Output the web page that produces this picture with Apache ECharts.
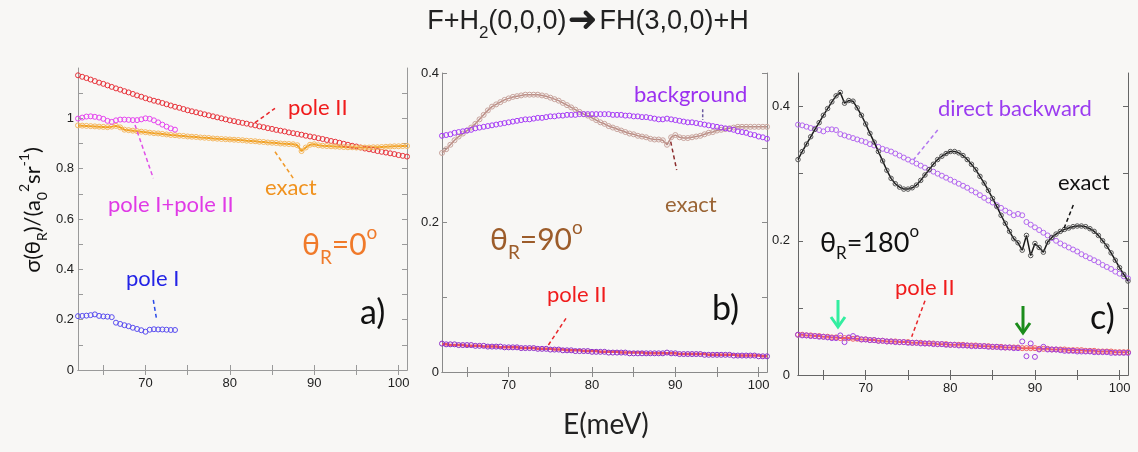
<!DOCTYPE html>
<html><head><meta charset="utf-8">
<script src="https://cdn.jsdelivr.net/npm/echarts@6/dist/echarts.min.js"></script>
<style>html,body{margin:0;padding:0;background:#f8f7f5;}#c{width:1138px;height:452px;}</style>
</head><body><div id="c"></div>
<script>
// ---------- DATA ----------
const E = [62,62.5,63,63.5,64,64.5,65,65.5,66,66.5,67,67.5,68,68.5,69,69.5,70,70.5,71,71.5,72,72.5,73,73.5,74,74.5,75,75.5,76,76.5,77,77.5,78,78.5,79,79.5,80,80.5,81,81.5,82,82.5,83,83.5,84,84.5,85,85.5,86,86.5,87,87.5,88,88.5,89,89.5,90,90.5,91,91.5,92,92.5,93,93.5,94,94.5,95,95.5,96,96.5,97,97.5,98,98.5,99,99.5,100,100.5,101];

// panel a) theta_R = 0
const aPoleII = [1.171,1.165,1.160,1.154,1.148,1.142,1.137,1.131,1.125,1.119,1.114,1.108,1.103,1.097,1.091,1.086,1.080,1.075,1.070,1.066,1.061,1.056,1.051,1.046,1.042,1.037,1.032,1.028,1.024,1.020,1.016,1.012,1.008,1.004,1.000,0.996,0.992,0.989,0.985,0.982,0.979,0.975,0.972,0.968,0.965,0.961,0.958,0.954,0.951,0.948,0.944,0.941,0.938,0.935,0.931,0.928,0.925,0.921,0.918,0.914,0.910,0.907,0.903,0.899,0.895,0.891,0.888,0.884,0.880,0.877,0.874,0.870,0.867,0.864,0.861,0.858,0.854,0.851,0.848];
const aPoleIplusII = [0.999,1.003,1.007,1.008,1.006,1.003,0.998,0.990,0.986,0.992,0.995,0.995,0.994,0.993,0.993,0.996,1.000,0.998,0.992,0.984,0.975,0.967,0.960,0.955];
const aExact = [0.972,0.971,0.970,0.969,0.968,0.967,0.966,0.965,0.967,0.970,0.964,0.955,0.953,0.951,0.949,0.947,0.945,0.943,0.941,0.940,0.938,0.936,0.934,0.933,0.931,0.930,0.928,0.927,0.926,0.924,0.923,0.922,0.920,0.919,0.918,0.917,0.916,0.915,0.914,0.913,0.911,0.910,0.909,0.907,0.906,0.904,0.903,0.902,0.900,0.899,0.898,0.897,0.893,0.870,0.884,0.895,0.897,0.893,0.891,0.890,0.889,0.888,0.887,0.886,0.885,0.885,0.884,0.884,0.884,0.884,0.885,0.885,0.886,0.887,0.888,0.889,0.889,0.890,0.890];
const aPoleI = [0.214,0.215,0.216,0.218,0.221,0.215,0.213,0.212,0.210,0.188,0.183,0.178,0.174,0.168,0.163,0.158,0.152,0.160,0.162,0.161,0.161,0.160,0.159,0.159];

// panel b) theta_R = 90
const bBackground = [0.316,0.317,0.318,0.320,0.321,0.322,0.323,0.324,0.326,0.327,0.328,0.329,0.330,0.331,0.332,0.333,0.334,0.335,0.336,0.337,0.338,0.338,0.339,0.340,0.340,0.341,0.342,0.342,0.343,0.343,0.344,0.344,0.344,0.345,0.345,0.345,0.345,0.345,0.345,0.345,0.345,0.344,0.344,0.344,0.343,0.343,0.342,0.342,0.341,0.341,0.340,0.339,0.338,0.338,0.339,0.338,0.337,0.336,0.335,0.334,0.334,0.333,0.332,0.331,0.330,0.329,0.328,0.327,0.326,0.325,0.324,0.322,0.321,0.320,0.318,0.317,0.315,0.314,0.312];
const bExact = [0.293,0.298,0.304,0.310,0.315,0.319,0.323,0.327,0.332,0.338,0.344,0.350,0.355,0.358,0.361,0.364,0.366,0.368,0.369,0.370,0.371,0.371,0.371,0.371,0.370,0.369,0.367,0.365,0.363,0.360,0.357,0.354,0.351,0.348,0.345,0.343,0.340,0.337,0.334,0.332,0.329,0.327,0.325,0.323,0.321,0.319,0.318,0.316,0.315,0.314,0.312,0.311,0.311,0.310,0.304,0.314,0.317,0.314,0.313,0.313,0.314,0.315,0.316,0.318,0.320,0.321,0.323,0.324,0.325,0.326,0.327,0.328,0.328,0.328,0.328,0.328,0.328,0.328,0.328];
const bPoleII = [0.037,0.037,0.036,0.036,0.036,0.036,0.035,0.035,0.035,0.035,0.034,0.034,0.034,0.034,0.033,0.033,0.033,0.033,0.033,0.032,0.032,0.032,0.032,0.031,0.031,0.031,0.031,0.030,0.030,0.030,0.029,0.029,0.029,0.029,0.028,0.028,0.028,0.028,0.027,0.027,0.027,0.027,0.027,0.026,0.026,0.026,0.026,0.026,0.026,0.025,0.025,0.025,0.025,0.025,0.025,0.025,0.025,0.024,0.024,0.024,0.024,0.024,0.024,0.024,0.023,0.023,0.023,0.023,0.023,0.023,0.023,0.022,0.022,0.022,0.022,0.022,0.022,0.021,0.021];
const bPoleIIb = [0.038,0.037,0.037,0.037,0.036,0.036,0.036,0.036,0.035,0.035,0.035,0.034,0.034,0.034,0.034,0.033,0.033,0.033,0.033,0.032,0.032,0.032,0.032,0.031,0.031,0.031,0.030,0.030,0.030,0.029,0.029,0.029,0.028,0.028,0.028,0.028,0.027,0.027,0.027,0.027,0.026,0.026,0.026,0.026,0.026,0.025,0.025,0.025,0.025,0.025,0.025,0.025,0.025,0.025,0.026,0.025,0.025,0.024,0.024,0.024,0.024,0.024,0.024,0.023,0.023,0.023,0.023,0.023,0.023,0.023,0.022,0.022,0.022,0.022,0.022,0.022,0.021,0.021,0.021];

// panel c) theta_R = 180
const cExact = [0.321,0.333,0.344,0.355,0.366,0.376,0.387,0.397,0.407,0.416,0.421,0.405,0.409,0.408,0.398,0.387,0.374,0.360,0.347,0.333,0.319,0.305,0.293,0.285,0.280,0.277,0.277,0.279,0.283,0.290,0.298,0.306,0.314,0.321,0.326,0.330,0.333,0.333,0.331,0.327,0.321,0.314,0.306,0.296,0.286,0.275,0.263,0.251,0.238,0.226,0.214,0.203,0.197,0.186,0.208,0.178,0.196,0.190,0.183,0.198,0.205,0.210,0.214,0.217,0.219,0.221,0.222,0.222,0.221,0.218,0.214,0.208,0.200,0.192,0.182,0.171,0.160,0.150,0.140];
const cDirectBackward = [0.373,0.372,0.370,0.368,0.367,0.365,0.363,0.366,0.366,0.365,0.359,0.357,0.355,0.353,0.351,0.349,0.347,0.344,0.342,0.340,0.337,0.335,0.333,0.330,0.327,0.324,0.321,0.318,0.315,0.312,0.309,0.306,0.303,0.300,0.297,0.294,0.291,0.288,0.285,0.282,0.279,0.275,0.272,0.268,0.264,0.260,0.257,0.253,0.249,0.245,0.242,0.238,0.240,0.238,0.228,0.224,0.220,0.216,0.212,0.208,0.204,0.200,0.196,0.193,0.190,0.187,0.184,0.180,0.177,0.174,0.171,0.168,0.164,0.161,0.158,0.154,0.151,0.147,0.144];
const cPoleII = [0.060,0.060,0.059,0.059,0.058,0.058,0.057,0.057,0.056,0.056,0.055,0.055,0.055,0.054,0.054,0.053,0.053,0.052,0.052,0.051,0.051,0.050,0.050,0.050,0.049,0.049,0.049,0.048,0.048,0.048,0.047,0.047,0.047,0.046,0.046,0.046,0.045,0.045,0.045,0.045,0.044,0.044,0.044,0.043,0.043,0.043,0.042,0.042,0.042,0.041,0.041,0.041,0.041,0.040,0.040,0.040,0.040,0.039,0.039,0.039,0.038,0.038,0.038,0.038,0.037,0.037,0.037,0.037,0.036,0.036,0.036,0.035,0.035,0.035,0.035,0.034,0.034,0.034,0.034];
const cPoleIIb = [0.060,0.059,0.059,0.058,0.058,0.057,0.057,0.056,0.055,0.055,0.059,0.049,0.056,0.058,0.055,0.053,0.053,0.052,0.052,0.051,0.051,0.050,0.050,0.049,0.049,0.049,0.048,0.048,0.048,0.047,0.047,0.047,0.046,0.046,0.046,0.045,0.045,0.045,0.044,0.044,0.044,0.043,0.043,0.043,0.043,0.042,0.042,0.042,0.041,0.041,0.041,0.040,0.040,0.050,0.028,0.047,0.027,0.038,0.042,0.038,0.038,0.038,0.037,0.036,0.036,0.036,0.035,0.035,0.035,0.035,0.034,0.034,0.034,0.034,0.033,0.033,0.033,0.033,0.033];

// axis ticks / labels
const xTicks = [65,70,75,80,85,90,95,100];
const xLabels = [70,80,90,100];
const yTicksA = [0,0.1,0.2,0.3,0.4,0.5,0.6,0.7,0.8,0.9,1,1.1];
const yLabelsA = [0,0.2,0.4,0.6,0.8,1];
const yTicksBC = [0,0.1,0.2,0.3,0.4];
const yLabelsBC = [0,0.2,0.4];

// ---------- CHART ----------
const chart = echarts.init(document.getElementById('c'), null, {renderer:'canvas'});
const LBL = '"Liberation Sans", Arial, sans-serif';
const TXT = 'Lato, "Open Sans", sans-serif';

const panels = [
  {grid:{left:78, top:68, width:329, height:302}, ymax:1.2, yT:yTicksA, yL:yLabelsA, frame:'#9a9a9a', lm:4},
  {grid:{left:442, top:73, width:325, height:299}, ymax:0.4, yT:yTicksBC, yL:yLabelsBC, frame:'#8a8a8a', lm:3},
  {grid:{left:798, top:73, width:330, height:302}, ymax:0.45, yT:yTicksBC, yL:yLabelsBC, frame:'#666', lm:8},
];

const grid=[], xAxis=[], yAxis=[];
panels.forEach((p,i)=>{
  grid.push(Object.assign({containLabel:false}, p.grid));
  const line = {show:true, lineStyle:{color:p.frame, width:1}};
  xAxis.push({type:'value', gridIndex:i, position:'bottom', min:62, max:101, axisLine:line,
    axisTick:{show:true, inside:true, length:5, customValues:xTicks, lineStyle:{color:p.frame}},
    axisLabel:{customValues:xLabels, margin:7, color:'#222', fontSize:13, fontFamily:LBL},
    splitLine:{show:false}});
  xAxis.push({type:'value', gridIndex:i, position:'top', min:62, max:101, axisLine:line,
    axisTick:{show:true, inside:true, length:5, customValues:xTicks, lineStyle:{color:p.frame}},
    axisLabel:{show:false}, splitLine:{show:false}});
  yAxis.push({type:'value', gridIndex:i, position:'left', min:0, max:p.ymax, axisLine:line,
    axisTick:{show:true, inside:true, length:5, customValues:p.yT, lineStyle:{color:p.frame}},
    axisLabel:{customValues:p.yL, margin:p.lm, color:'#222', fontSize:13, fontFamily:LBL,
      formatter:v=>String(+(+v).toFixed(1))},
    splitLine:{show:false}});
  yAxis.push({type:'value', gridIndex:i, position:'right', min:0, max:p.ymax, axisLine:line,
    axisTick:{show:true, inside:true, length:5, customValues:p.yT, lineStyle:{color:p.frame}},
    axisLabel:{show:false}, splitLine:{show:false}});
});

function S(name, g, vals, o){
  const col = o.color;
  return {
    name, type:'line', xAxisIndex:g*2, yAxisIndex:g*2,
    data: vals.map((v,k)=>[E[k], v]),
    symbol: o.symbol===undefined ? 'circle' : o.symbol,
    symbolSize: o.size || 5, showSymbol: o.symbol!=='none',
    itemStyle:{color:'rgba(0,0,0,0)', borderColor:o.mcolor||col, borderWidth:1},
    lineStyle:{color:o.lcolor||col, width:o.lw||1, opacity:o.lw?1:0},
    emphasis:{disabled:true}, silent:true, animation:false, z:o.z||2
  };
}

const series = [
  S('pole II', 0, aPoleII, {color:'#e8343c'}),
  S('exact', 0, aExact, {color:'#f0a020', mcolor:'#f5b860', lw:2}),
  S('pole I+pole II', 0, aPoleIplusII, {color:'#e645f0'}),
  S('pole I', 0, aPoleI, {color:'#5a4ef0'}),

  S('exact', 1, bExact, {color:'#c8a39c', lcolor:'#b98c84', lw:1.5}),
  S('background', 1, bBackground, {color:'#a63cf5'}),
  S('pole II', 1, bPoleII, {color:'#f05a5a', symbol:'none', lw:2.5}),
  S('pole II (circles)', 1, bPoleIIb, {color:'#8e2cc8', z:3}),

  S('direct backward', 2, cDirectBackward, {color:'#b468f0'}),
  S('exact', 2, cExact, {color:'#555', lcolor:'#1a1a1a', lw:1.5, size:4.5, z:3}),
  S('pole II', 2, cPoleII, {color:'#f06060', lw:2}),
  S('pole II (circles)', 2, cPoleIIb, {color:'#a040e0', z:3}),
];

// ---------- ANNOTATIONS ----------
function richSet(size, color, fam){
  const lh = Math.round(size*1.45);
  return {
    m:{fontSize:size, lineHeight:lh, fill:color, fontFamily:fam, verticalAlign:'middle'},
    s:{fontSize:Math.round(size*0.62), lineHeight:Math.round(size*0.62), fill:color, fontFamily:fam, verticalAlign:'bottom'},
    p:{fontSize:Math.round(size*0.62), lineHeight:Math.round(size*0.62), fill:color, fontFamily:fam, verticalAlign:'top'},
    b:{fontSize:Math.round(size*1.35), lineHeight:lh, fill:color, fontFamily:'"DejaVu Sans", sans-serif', verticalAlign:'middle', padding:[0,2,0,1]}
  };
}
function rt(x, y, text, size, color, fam, align, rot){
  return {type:'text', x, y, rotation:rot||0, z:100, silent:true,
    style:{text, rich:richSet(size,color,fam||TXT), align:align||'left', verticalAlign:'middle'}};
}
function tx(x, y, text, size, color){
  return {type:'text', x, y, z:100, silent:true,
    style:{text, fontSize:size, fontFamily:TXT, fill:color, align:'left', verticalAlign:'middle'}};
}
function dl(x1,y1,x2,y2,color,dash){
  return {type:'line', z:99, silent:true, shape:{x1,y1,x2,y2},
    style:{stroke:color, lineWidth:1.5, lineDash: dash||[4,3]}};
}
function arrow(x, y1, y2, color){
  return {type:'group', z:101, silent:true, children:[
    {type:'line', shape:{x1:x, y1:y1, x2:x, y2:y2-2}, style:{stroke:color, lineWidth:3}},
    {type:'polyline', shape:{points:[[x-7,y2-10],[x,y2],[x+7,y2-10]]}, style:{stroke:color, lineWidth:3, fill:null}}
  ]};
}

const graphic = [
  rt(588, 22, '{m|F+H}{s|2}{m|(0,0,0)}{b|➜}{m|FH(3,0,0)+H}', 27, '#222', LBL, 'center'),
  rt(33, 210, '{m|σ(θ}{s|R}{m|)/(a}{s|0}{p|2}{m|sr}{p|-1}{m|)}', 22, '#111', TXT, 'center', Math.PI/2),
  tx(563, 425, 'E(meV)', 28, '#222'),

  // panel a
  tx(288, 108, 'pole II', 22, '#f01c1c'), dl(255,122.7,275,108.3,'#e8262a'),
  tx(108, 205, 'pole I+pole II', 22, '#e03ae6'), dl(135,125,153.3,178.3,'#e050e8'),
  tx(265, 188, 'exact', 22, '#f0921e'), dl(275,151.7,293.3,178.3,'#f09a2a'),
  tx(126, 279, 'pole I', 22, '#2424e6'), dl(153.3,300,156.7,320,'#2a4ae8'),
  rt(302, 245, '{m|θ}{s|R}{m|=0}{p|o}', 30, '#f07a2a'),
  tx(360, 313, 'a)', 34, '#111'),

  // panel b
  tx(634, 95, 'background', 22, '#9b30f0'), dl(702.7,109.3,702.7,120,'#6a5aa0',[3,2]),
  tx(665, 205, 'exact', 22, '#9a6434'), dl(670.7,141.7,676.7,170,'#8b2c2c'),
  rt(490, 240, '{m|θ}{s|R}{m|=90}{p|o}', 30, '#9c5c2a'),
  tx(547, 295, 'pole II', 22, '#f01c1c'), dl(566,318.3,547.3,346.7,'#e8262a'),
  tx(712, 309, 'b)', 34, '#111'),

  // panel c
  tx(938, 109, 'direct backward', 22, '#9b3cf0'), dl(937.7,130,913.3,160,'#b074f0'),
  tx(1058, 183, 'exact', 22, '#111'), dl(1073.3,205,1062.7,231.7,'#111'),
  rt(820, 243, '{m|θ}{s|R}{m|=180}{p|o}', 27, '#111'),
  tx(895, 288, 'pole II', 22, '#f01c1c'), dl(925,300.7,911.7,336.7,'#e8262a'),
  tx(1090, 318, 'c)', 34, '#111'),
  arrow(838, 300, 327, '#33eea0'),
  arrow(1023, 306, 333, '#1b8c1b'),
];

chart.setOption({
  backgroundColor:'#f8f7f5',
  animation:false,
  grid, xAxis, yAxis, series, graphic
});
</script></body></html>
